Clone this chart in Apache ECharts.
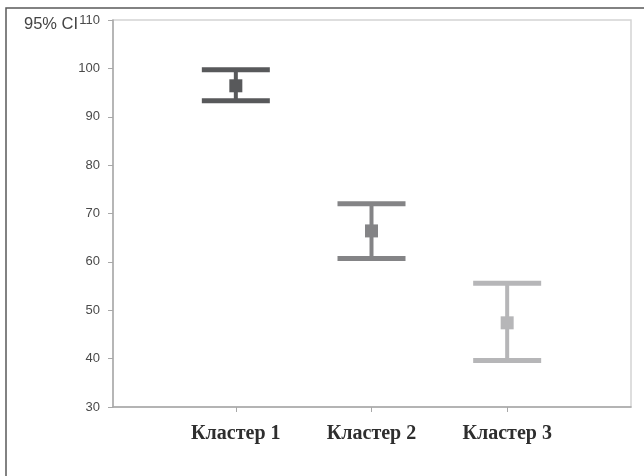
<!DOCTYPE html>
<html>
<head>
<meta charset="utf-8">
<script src="https://cdn.jsdelivr.net/npm/echarts@6/dist/echarts.min.js"></script>
<style>html,body{margin:0;padding:0;background:#fff}#c{width:644px;height:476px}</style>
</head>
<body>
<div id="c"></div>
<script>
var categories = ['Кластер 1', 'Кластер 2', 'Кластер 3'];
var ciLow = [93.3, 60.7, 39.6];
var ciHigh = [99.7, 72.0, 55.6];
var means = [96.4, 66.4, 47.4];
var yTicks = [30, 40, 50, 60, 70, 80, 90, 100, 110];
var colors = ['#58595b', '#848486', '#b6b6b8'];

var chart = echarts.init(document.getElementById('c'), null, {renderer: 'canvas'});
var data = categories.map(function (c, i) { return [i, ciLow[i], ciHigh[i], means[i]]; });

chart.setOption({
  animation: false,
  title: {
    text: '95% CI', left: 19, top: 11,
    textStyle: {fontFamily: 'Liberation Sans, Arial', fontSize: 16.5, fontWeight: 'normal', color: '#444'}
  },
  graphic: [{
    type: 'rect', shape: {x: 6, y: 8, width: 700, height: 500},
    style: {fill: 'none', stroke: '#5a5a5a', lineWidth: 1.5}, silent: true, z: 100
  }],
  grid: [
    {left: 113, right: 13, top: 20, bottom: 69, show: true, borderColor: '#d4d4d4', borderWidth: 1.5},
    {left: 168, right: 69, top: 20, bottom: 69}
  ],
  xAxis: [
    {gridIndex: 0, type: 'value', min: 0, max: 1, axisLabel: {show: false}, axisTick: {show: false}, splitLine: {show: false},
     axisLine: {show: true, lineStyle: {color: '#a8a8a8', width: 1.5}}},
    {gridIndex: 1, type: 'category', data: categories, axisLine: {show: false},
     axisTick: {show: true, alignWithLabel: true, length: 5, lineStyle: {color: '#a8a8a8'}},
     axisLabel: {margin: 17, fontFamily: 'Liberation Serif, Times New Roman', fontWeight: 'bold', fontSize: 20, color: '#2e2e2e'}}
  ],
  yAxis: [
    {gridIndex: 0, type: 'value', min: yTicks[0], max: yTicks[yTicks.length - 1], interval: 10, splitLine: {show: false},
     axisLine: {show: true, lineStyle: {color: '#a8a8a8', width: 1.5}},
     axisTick: {show: true, length: 5, lineStyle: {color: '#a8a8a8'}},
     axisLabel: {margin: 13, fontFamily: 'Liberation Sans, Arial', fontSize: 13, color: '#4a4a4a'}},
    {gridIndex: 1, type: 'value', min: yTicks[0], max: yTicks[yTicks.length - 1], interval: 10, show: false}
  ],
  series: [{
    type: 'custom', xAxisIndex: 1, yAxisIndex: 1, data: data,
    renderItem: function (params, api) {
      var i = api.value(0);
      var lo = api.coord([i, api.value(1)]);
      var hi = api.coord([i, api.value(2)]);
      var m = api.coord([i, api.value(3)]);
      var col = colors[i];
      var half = 34, sq = 13;
      return {
        type: 'group',
        children: [
          {type: 'line', shape: {x1: hi[0], y1: hi[1], x2: lo[0], y2: lo[1]}, style: {stroke: col, lineWidth: 4}},
          {type: 'line', shape: {x1: hi[0] - half, y1: hi[1], x2: hi[0] + half, y2: hi[1]}, style: {stroke: col, lineWidth: 5}},
          {type: 'line', shape: {x1: lo[0] - half, y1: lo[1], x2: lo[0] + half, y2: lo[1]}, style: {stroke: col, lineWidth: 5}},
          {type: 'rect', shape: {x: m[0] - sq / 2, y: m[1] - sq / 2, width: sq, height: sq}, style: {fill: col}}
        ]
      };
    }
  }]
});
</script>
</body>
</html>
